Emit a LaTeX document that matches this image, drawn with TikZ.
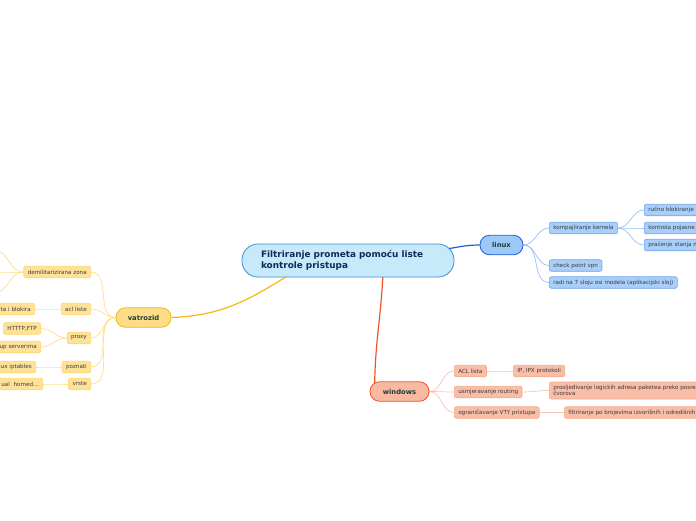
\documentclass[tikz,border=0pt]{standalone}
\usepackage{fontspec}
\setmainfont{DejaVu Sans}
\usetikzlibrary{backgrounds}

\definecolor{rootfill}{HTML}{C6EAFA}
\definecolor{rootdraw}{HTML}{3F8FD2}
\definecolor{roottext}{HTML}{14285A}
\definecolor{branchtext}{HTML}{1D3F36}
\definecolor{leaftext}{HTML}{3A3A3A}
\definecolor{linuxfill}{HTML}{9DC9F8}
\definecolor{linuxdraw}{HTML}{1B5FD6}
\definecolor{linuxsubfill}{HTML}{A8CEFA}
\definecolor{linuxsubdraw}{HTML}{6FA4EE}
\definecolor{vatrofill}{HTML}{FFDC87}
\definecolor{vatrodraw}{HTML}{F6B70F}
\definecolor{vatrosubfill}{HTML}{FFE29A}
\definecolor{vatrosubdraw}{HTML}{FFD66B}
\definecolor{winfill}{HTML}{F9B8A1}
\definecolor{windraw}{HTML}{EA5628}
\definecolor{winsubfill}{HTML}{F9BEA8}
\definecolor{winsubdraw}{HTML}{F6A98C}

\tikzset{
	root/.style={draw=rootdraw, fill=rootfill, line width=0.8pt, rounded corners=16pt,
		minimum width=212pt, minimum height=33pt, text width=174pt, align=left,
		text=roottext, font=\bfseries\fontsize{8.9}{11.5}\selectfont},
	branch/.style={line width=0.8pt, rounded corners=9.5pt, minimum height=19.5pt,
		inner sep=0pt, text=branchtext, font=\bfseries\fontsize{6.8}{7.5}\selectfont},
	leaf/.style={line width=0.6pt, rounded corners=2pt, inner xsep=4pt, inner ysep=0pt,
		minimum height=11.5pt, text=leaftext, font=\fontsize{5.6}{6.4}\selectfont},
	linuxleaf/.style={leaf, draw=linuxsubdraw, fill=linuxsubfill},
	vatroleaf/.style={leaf, draw=vatrosubdraw, fill=vatrosubfill},
	winleaf/.style={leaf, draw=winsubdraw, fill=winsubfill},
	linuxlink/.style={draw=linuxsubdraw!70, line width=0.7pt},
	vatrolink/.style={draw=vatrosubdraw!80, line width=0.7pt},
	winlink/.style={draw=winsubdraw!70, line width=0.7pt},
}

\begin{document}
\begin{tikzpicture}[x=1pt, y=-1pt]
	\useasboundingbox (0,0) rectangle (696,520);
	\clip (0,0) rectangle (696,520);

	\node (root) at (348,260.5) [root] {Filtriranje prometa pomoću liste\\kontrole pristupa};

	\node (linux) at (501.5,245) [branch, draw=linuxdraw, fill=linuxfill, minimum width=43pt] {linux};
		\node (kernel) at (549,228) [linuxleaf, anchor=west] {kompajliranje kernela};
			\node (rucno) at (644,210) [linuxleaf, anchor=west, text width=80pt, align=left] {ručno blokiranje p};
			\node (pojas) at (644,228) [linuxleaf, anchor=west, text width=80pt, align=left] {kontrola pojasne};
			\node (stanje) at (644,245) [linuxleaf, anchor=west, text width=80pt, align=left] {praćenje stanja n};
		\node (vpn) at (549,265.5) [linuxleaf, anchor=west] {check point vpn};
		\node (osi) at (549,282.5) [linuxleaf, anchor=west] {radi na 7 sloju osi modela (aplikacijski sloj)};

	\node (vatrozid) at (143.5,317.5) [branch, draw=vatrodraw, fill=vatrofill, minimum width=55pt] {vatrozid};
		\node (dmz) at (91,272) [vatroleaf, anchor=east] {demilitarizirana zona};
			\coordinate (dmz1) at (-6,250);
			\coordinate (dmz2) at (-6,272);
			\coordinate (dmz3) at (-6,293);
		\node (acl) at (91,309) [vatroleaf, anchor=east] {acl liste};
			\node (blok) at (35,309) [vatroleaf, anchor=east, text width=60pt, align=right] {ta i blokira};
		\node (proxy) at (91,338) [vatroleaf, anchor=east] {proxy};
			\node (http) at (41,328.5) [vatroleaf, anchor=east] {HTTTP,FTP};
			\node (server) at (41,347) [vatroleaf, anchor=east, text width=60pt, align=right] {up serverima};
		\node (poznati) at (91,367) [vatroleaf, anchor=east] {poznati};
			\node (iptables) at (36,367) [vatroleaf, anchor=east, text width=60pt, align=right] {nux iptables};
		\node (vrste) at (91,384) [vatroleaf, anchor=east] {vrste};
			\node (homed) at (43,384) [vatroleaf, anchor=east, text width=60pt, align=right] {ual\ \ homed…};

	\node (windows) at (399.5,391.5) [branch, draw=windraw, fill=winfill, minimum width=59pt] {windows};
		\node (acllista) at (454,371) [winleaf, anchor=west] {ACL lista};
			\node (ipx) at (513,371) [winleaf, anchor=west] {IP, IPX protokoli};
		\node (routing) at (454,392) [winleaf, anchor=west] {usmjeravanje routing};
			\node (adrese) at (549,390.5) [winleaf, anchor=west, minimum height=17pt, text width=200pt, align=left] {prosljeđivanje logickih adresa paketea preko posred\\čvorova};
		\node (vty) at (454,412.5) [winleaf, anchor=west] {ograničavanje VTY pristupa};
			\node (filtar) at (564,412.5) [winleaf, anchor=west, text width=200pt, align=left] {filtriranje po brojevima izvorišnih i odredišnih};

	\begin{scope}[on background layer]
	\draw[draw=linuxdraw, line width=1.2pt] ([xshift=-12pt, yshift=-6pt]root.north east) to[out=8, in=180] (linux.west);
	\draw[draw=vatrodraw, line width=1.2pt] ([xshift=-58pt, yshift=3pt]root.south) to[out=-148, in=2] (vatrozid.east);
	\draw[draw=windraw, line width=1.2pt] ([xshift=35pt, yshift=3pt]root.south) to[out=-93, in=90] ([xshift=5pt]windows.west);

	\draw[linuxlink] (linux.east) to[out=0, in=180] (kernel.west);
	\draw[linuxlink] (linux.east) to[out=0, in=180] (vpn.west);
	\draw[linuxlink] (linux.east) to[out=0, in=180] (osi.west);
	\draw[linuxlink] (kernel.east) to[out=0, in=180] (rucno.west);
	\draw[linuxlink] (kernel.east) to[out=0, in=180] (pojas.west);
	\draw[linuxlink] (kernel.east) to[out=0, in=180] (stanje.west);

	\draw[vatrolink] (vatrozid.west) to[out=180, in=0] (dmz.east);
	\draw[vatrolink] (vatrozid.west) to[out=180, in=0] (acl.east);
	\draw[vatrolink] (vatrozid.west) to[out=180, in=0] (proxy.east);
	\draw[vatrolink] (vatrozid.west) to[out=180, in=0] (poznati.east);
	\draw[vatrolink] (vatrozid.west) to[out=180, in=0] (vrste.east);
	\draw[vatrolink] (dmz.west) to[out=180, in=0] (dmz1);
	\draw[vatrolink] (dmz.west) to[out=180, in=0] (dmz2);
	\draw[vatrolink] (dmz.west) to[out=180, in=0] (dmz3);
	\draw[vatrolink] (acl.west) to[out=180, in=0] (blok.east);
	\draw[vatrolink] (proxy.west) to[out=180, in=0] (http.east);
	\draw[vatrolink] (proxy.west) to[out=180, in=0] (server.east);
	\draw[vatrolink] (poznati.west) to[out=180, in=0] (iptables.east);
	\draw[vatrolink] (vrste.west) to[out=180, in=0] (homed.east);

	\draw[winlink] (windows.east) to[out=0, in=180] (acllista.west);
	\draw[winlink] (windows.east) to[out=0, in=180] (routing.west);
	\draw[winlink] (windows.east) to[out=0, in=180] (vty.west);
	\draw[winlink] (acllista.east) to[out=0, in=180] (ipx.west);
	\draw[winlink] (routing.east) to[out=0, in=180] (adrese.west);
	\draw[winlink] (vty.east) to[out=0, in=180] (filtar.west);
	\end{scope}
\end{tikzpicture}
\end{document}
